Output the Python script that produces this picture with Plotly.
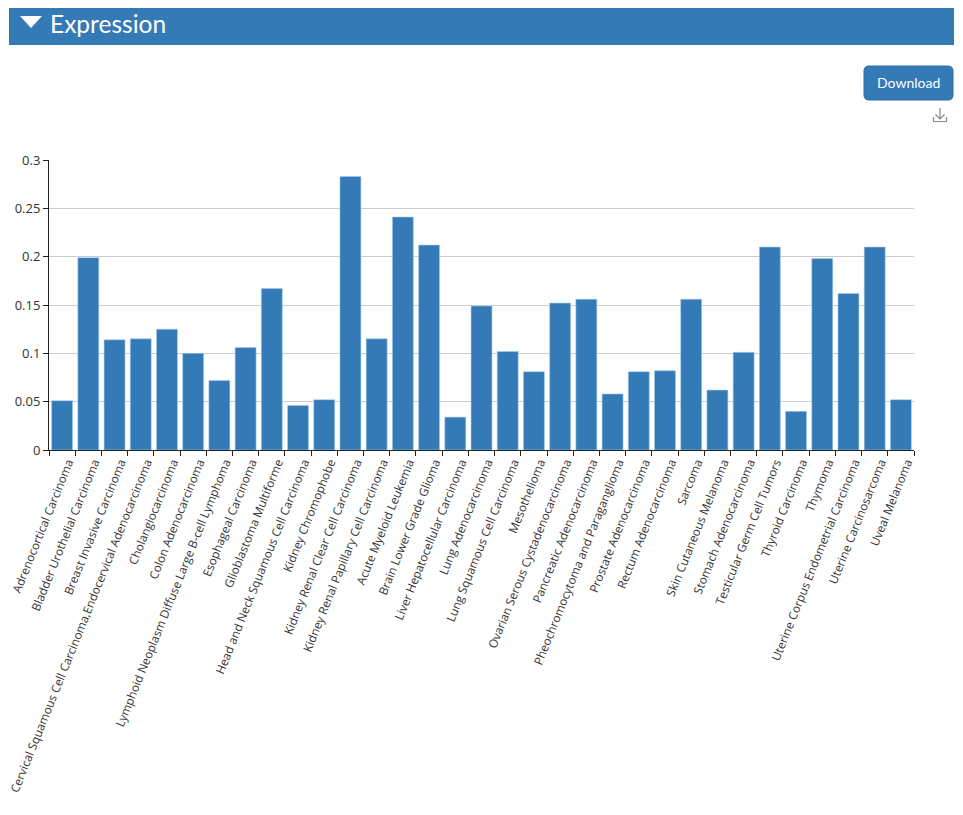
import plotly.graph_objects as go

categories = [
    "Adrenocortical Carcinoma", "Bladder Urothelial Carcinoma", "Breast Invasive Carcinoma",
    "Cervical Squamous Cell Carcinoma,Endocervical Adenocarcinoma", "Cholangiocarcinoma",
    "Colon Adenocarcinoma", "Lymphoid Neoplasm Diffuse Large B-cell Lymphoma",
    "Esophageal Carcinoma", "Glioblastoma Multiforme", "Head and Neck Squamous Cell Carcinoma",
    "Kidney Chromophobe", "Kidney Renal Clear Cell Carcinoma", "Kidney Renal Papillary Cell Carcinoma",
    "Acute Myeloid Leukemia", "Brain Lower Grade Glioma", "Liver Hepatocellular Carcinoma",
    "Lung Adenocarcinoma", "Lung Squamous Cell Carcinoma", "Mesothelioma",
    "Ovarian Serous Cystadenocarcinoma", "Pancreatic Adenocarcinoma",
    "Pheochromocytoma and Paraganglioma", "Prostate Adenocarcinoma", "Rectum Adenocarcinoma",
    "Sarcoma", "Skin Cutaneous Melanoma", "Stomach Adenocarcinoma", "Testicular Germ Cell Tumors",
    "Thyroid Carcinoma", "Thymoma", "Uterine Corpus Endometrial Carcinoma",
    "Uterine Carcinosarcoma", "Uveal Melanoma",
]
values = [
    0.051, 0.199, 0.114, 0.115, 0.125, 0.100, 0.072, 0.106, 0.167, 0.046, 0.052,
    0.283, 0.115, 0.241, 0.212, 0.034, 0.149, 0.102, 0.081, 0.152, 0.156,
    0.058, 0.081, 0.082, 0.156, 0.062, 0.101, 0.210, 0.040, 0.198, 0.162,
    0.210, 0.052,
]
y_ticks = [0, 0.05, 0.1, 0.15, 0.2, 0.25, 0.3]
header_title = "Expression"
button_text = "Download"

OFF = 8  # page body margin
W, H = 963 - OFF, 815 - OFF
L, T = 49 - OFF, 160 - OFF
R = W - (914 - OFF)
B = H - (450 - OFF)
PW, PH = W - L - R, H - T - B


def px(x):
    return (x - OFF - L) / PW


def py(y):
    return (H - B - (y - OFF)) / PH


BLUE = "#337ab7"

fig = go.Figure(go.Bar(
    x=categories, y=values,
    marker=dict(color=BLUE, line=dict(color="#a9cdef", width=0.6)),
    hoverinfo="x+y",
))

shapes = []
shapes.append(dict(type="rect", xref="paper", yref="paper",
                   x0=px(9), x1=px(954), y0=py(45), y1=py(8),
                   fillcolor=BLUE, line=dict(width=0), layer="above"))
shapes.append(dict(type="path", xref="paper", yref="paper",
                   path=f"M {px(20)},{py(16)} L {px(42)},{py(16)} L {px(31)},{py(28)} Z",
                   fillcolor="white", line=dict(width=0), layer="above"))
bx0, bx1, by0, by1, r = 864, 953, 66, 100, 5
path = (f"M {px(bx0 + r)},{py(by0)} L {px(bx1 - r)},{py(by0)} "
        f"Q {px(bx1)},{py(by0)} {px(bx1)},{py(by0 + r)} "
        f"L {px(bx1)},{py(by1 - r)} Q {px(bx1)},{py(by1)} {px(bx1 - r)},{py(by1)} "
        f"L {px(bx0 + r)},{py(by1)} Q {px(bx0)},{py(by1)} {px(bx0)},{py(by1 - r)} "
        f"L {px(bx0)},{py(by0 + r)} Q {px(bx0)},{py(by0)} {px(bx0 + r)},{py(by0)} Z")
shapes.append(dict(type="path", xref="paper", yref="paper", path=path,
                   fillcolor=BLUE, line=dict(color="#2e6da4", width=1), layer="above"))
icon = dict(color="#888888", width=1.2)
shapes.append(dict(type="path", xref="paper", yref="paper",
                   path=f"M {px(940)},{py(108)} L {px(940)},{py(119)} M {px(935.5)},{py(114.5)} L {px(940)},{py(119)} L {px(944.5)},{py(114.5)}",
                   line=icon, layer="above"))
shapes.append(dict(type="path", xref="paper", yref="paper",
                   path=f"M {px(933.5)},{py(117)} L {px(933.5)},{py(121.5)} L {px(946.5)},{py(121.5)} L {px(946.5)},{py(117)}",
                   line=icon, layer="above"))

annotations = [
    dict(text=header_title, xref="paper", yref="paper", x=px(48), y=py(23.5),
         xanchor="left", yanchor="middle", showarrow=False,
         font=dict(family="Lato", size=24.5, color="white")),
    dict(text=button_text, xref="paper", yref="paper", x=px((bx0 + bx1) / 2), y=py(82.5),
         xanchor="center", yanchor="middle", showarrow=False,
         font=dict(family="Lato", size=14, color="white")),
]

fig.update_layout(
    width=W, height=H,
    margin=dict(l=L, r=R, t=T, b=B, autoexpand=False),
    paper_bgcolor="white", plot_bgcolor="white",
    font=dict(family="Open Sans", size=12, color="#333333"),
    bargap=0.2,
    showlegend=False,
    shapes=shapes,
    annotations=annotations,
    xaxis=dict(
        tickangle=-68, ticks="outside", tickson="boundaries", ticklen=5,
        tickcolor="#222", showline=True, linecolor="#222", linewidth=1,
        showgrid=False, tickfont=dict(size=11.8, color="#333"),
        ticklabelshift=6,
        automargin=False,
    ),
    yaxis=dict(
        range=[0, 0.3], tickvals=y_ticks, ticktext=[f"{v:g}" for v in y_ticks],
        ticks="outside", ticklen=5, tickcolor="#222",
        showline=True, linecolor="#222", linewidth=1,
        showgrid=True, gridcolor="#cccccc", gridwidth=1, zeroline=False,
        tickfont=dict(size=13, color="#333"), automargin=False,
    ),
)

fig.write_html("out.html")
